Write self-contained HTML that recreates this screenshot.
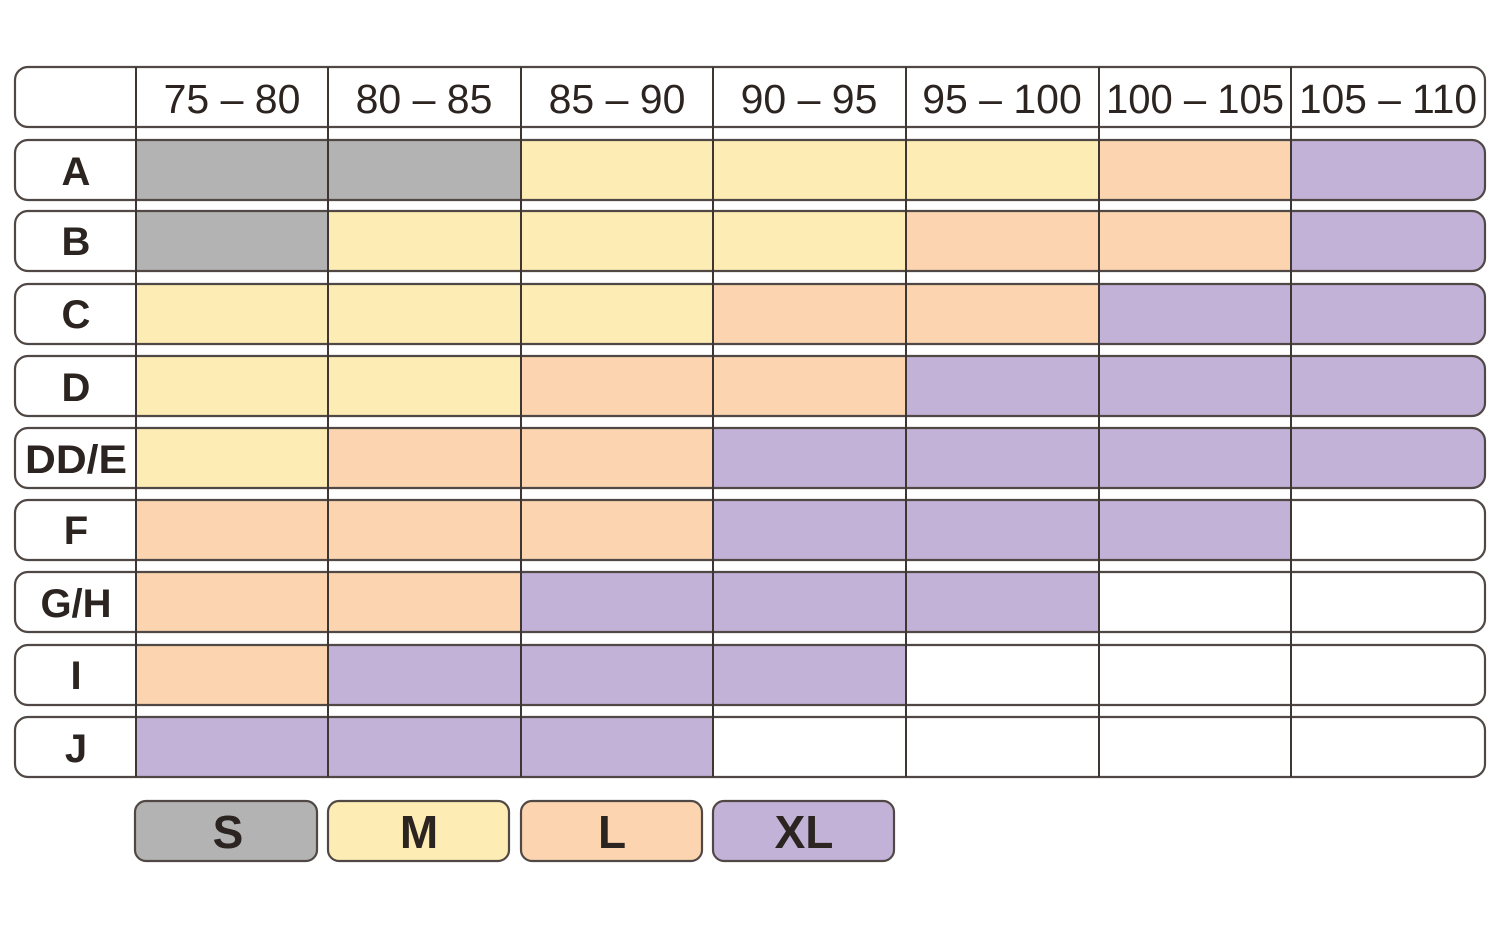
<!DOCTYPE html>
<html><head><meta charset="utf-8"><style>
html,body{margin:0;padding:0;background:#fff;}
svg{display:block;}
text{font-family:"Liberation Sans",Arial,sans-serif;fill:#2b2420;text-anchor:middle;}
.h{font-size:41px;}
.r{font-size:40px;font-weight:bold;}
.l{font-size:46px;font-weight:bold;}
</style></head><body>
<svg width="1500" height="933" viewBox="0 0 1500 933" xmlns="http://www.w3.org/2000/svg">
<defs>
<clipPath id="rows">
<rect x="15" y="140" width="1470" height="60" rx="13"/>
<rect x="15" y="211" width="1470" height="60" rx="13"/>
<rect x="15" y="284" width="1470" height="60" rx="13"/>
<rect x="15" y="356" width="1470" height="60" rx="13"/>
<rect x="15" y="428" width="1470" height="60" rx="13"/>
<rect x="15" y="500" width="1470" height="60" rx="13"/>
<rect x="15" y="572" width="1470" height="60" rx="13"/>
<rect x="15" y="645" width="1470" height="60" rx="13"/>
<rect x="15" y="717" width="1470" height="60" rx="13"/>
</clipPath>
</defs>
<g clip-path="url(#rows)">
<!-- A -->
<rect x="136" y="140" width="385" height="60" fill="#b3b3b3"/>
<rect x="521" y="140" width="578" height="60" fill="#feecb5"/>
<rect x="1099" y="140" width="192" height="60" fill="#fcd5b0"/>
<rect x="1291" y="140" width="194" height="60" fill="#c3b2d8"/>
<!-- B -->
<rect x="136" y="211" width="192" height="60" fill="#b3b3b3"/>
<rect x="328" y="211" width="578" height="60" fill="#feecb5"/>
<rect x="906" y="211" width="385" height="60" fill="#fcd5b0"/>
<rect x="1291" y="211" width="194" height="60" fill="#c3b2d8"/>
<!-- C -->
<rect x="136" y="284" width="577" height="60" fill="#feecb5"/>
<rect x="713" y="284" width="386" height="60" fill="#fcd5b0"/>
<rect x="1099" y="284" width="386" height="60" fill="#c3b2d8"/>
<!-- D -->
<rect x="136" y="356" width="385" height="60" fill="#feecb5"/>
<rect x="521" y="356" width="385" height="60" fill="#fcd5b0"/>
<rect x="906" y="356" width="579" height="60" fill="#c3b2d8"/>
<!-- DD/E -->
<rect x="136" y="428" width="192" height="60" fill="#feecb5"/>
<rect x="328" y="428" width="385" height="60" fill="#fcd5b0"/>
<rect x="713" y="428" width="772" height="60" fill="#c3b2d8"/>
<!-- F -->
<rect x="136" y="500" width="577" height="60" fill="#fcd5b0"/>
<rect x="713" y="500" width="578" height="60" fill="#c3b2d8"/>
<!-- G/H -->
<rect x="136" y="572" width="385" height="60" fill="#fcd5b0"/>
<rect x="521" y="572" width="578" height="60" fill="#c3b2d8"/>
<!-- I -->
<rect x="136" y="645" width="192" height="60" fill="#fcd5b0"/>
<rect x="328" y="645" width="578" height="60" fill="#c3b2d8"/>
<!-- J -->
<rect x="136" y="717" width="577" height="60" fill="#c3b2d8"/>
</g>
<g fill="none" stroke="#504844" stroke-width="2.2">
<rect x="15" y="67" width="1470" height="60" rx="13"/>
<rect x="15" y="140" width="1470" height="60" rx="13"/>
<rect x="15" y="211" width="1470" height="60" rx="13"/>
<rect x="15" y="284" width="1470" height="60" rx="13"/>
<rect x="15" y="356" width="1470" height="60" rx="13"/>
<rect x="15" y="428" width="1470" height="60" rx="13"/>
<rect x="15" y="500" width="1470" height="60" rx="13"/>
<rect x="15" y="572" width="1470" height="60" rx="13"/>
<rect x="15" y="645" width="1470" height="60" rx="13"/>
<rect x="15" y="717" width="1470" height="60" rx="13"/>
</g>
<g stroke="#3e3632" stroke-width="2">
<line x1="136" y1="67" x2="136" y2="777"/>
<line x1="328" y1="67" x2="328" y2="777"/>
<line x1="521" y1="67" x2="521" y2="777"/>
<line x1="713" y1="67" x2="713" y2="777"/>
<line x1="906" y1="67" x2="906" y2="777"/>
<line x1="1099" y1="67" x2="1099" y2="777"/>
<line x1="1291" y1="67" x2="1291" y2="777"/>
</g>
<g class="h">
<text x="232" y="113">75 – 80</text>
<text x="424" y="113">80 – 85</text>
<text x="617" y="113">85 – 90</text>
<text x="809" y="113">90 – 95</text>
<text x="1002" y="113">95 – 100</text>
<text x="1195" y="113" textLength="178" lengthAdjust="spacingAndGlyphs">100 – 105</text>
<text x="1388" y="113" textLength="178" lengthAdjust="spacingAndGlyphs">105 – 110</text>
</g>
<g class="r">
<text x="76" y="185">A</text>
<text x="76" y="255">B</text>
<text x="76" y="328">C</text>
<text x="76" y="401">D</text>
<text x="76" y="473" textLength="102" lengthAdjust="spacingAndGlyphs">DD/E</text>
<text x="76" y="544">F</text>
<text x="76" y="617">G/H</text>
<text x="76" y="689">I</text>
<text x="76" y="762">J</text>
</g>
<g stroke="#504844" stroke-width="2.2">
<rect x="135" y="801" width="182" height="60" rx="11" fill="#b3b3b3"/>
<rect x="328" y="801" width="181" height="60" rx="11" fill="#feecb5"/>
<rect x="521" y="801" width="181" height="60" rx="11" fill="#fcd5b0"/>
<rect x="713" y="801" width="181" height="60" rx="11" fill="#c3b2d8"/>
</g>
<g class="l">
<text x="228" y="848">S</text>
<text x="419" y="848">M</text>
<text x="612" y="848">L</text>
<text x="804" y="848">XL</text>
</g>
</svg>
</body></html>
